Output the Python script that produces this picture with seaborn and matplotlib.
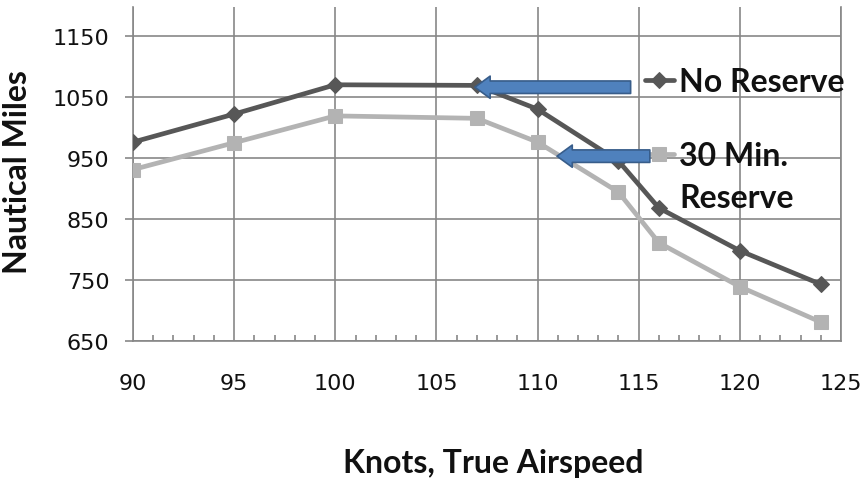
import matplotlib
matplotlib.use("Agg")
import matplotlib.pyplot as plt
import seaborn as sns
import pandas as pd
from matplotlib.ticker import MultipleLocator
from matplotlib.patches import FancyArrowPatch

# ---- data ----
airspeed = [90, 95, 100, 107, 110, 114, 116, 120, 124]
no_reserve = [976, 1022, 1070, 1069, 1030, 945, 868, 798, 743]
min30_reserve = [931, 975, 1019, 1015, 976, 894, 811, 739, 681]
series_names = ["No Reserve", "30 Min. Reserve"]
y_ticks = [650, 750, 850, 950, 1050, 1150]
x_ticks = [90, 95, 100, 105, 110, 115, 120, 125]

df = pd.DataFrame({
    "Knots": airspeed * 2,
    "Miles": no_reserve + min30_reserve,
    "Series": [series_names[0]] * len(airspeed) + [series_names[1]] * len(airspeed),
})

sns.set_style("white")
plt.rcParams["font.family"] = ["DejaVu Sans"]

fig = plt.figure(figsize=(8.62, 4.85), dpi=100)
ax = fig.add_axes([133 / 862, 1 - 342 / 485, (841 - 133) / 862, (342 - 8) / 485])

grid_c = "#878787"
dark = "#575757"
light = "#b3b3b3"
txt_c = "#111111"
bold_font = dict(family="Lato", weight="bold", size=23, color=txt_c)

sns.lineplot(data=df[df.Series == series_names[1]], x="Knots", y="Miles", ax=ax,
             color=light, linewidth=3.4, marker="s", markersize=10,
             markeredgecolor=light, label="30 Min.", zorder=3)
sns.lineplot(data=df[df.Series == series_names[0]], x="Knots", y="Miles", ax=ax,
             color=dark, linewidth=3.4, marker="D", markersize=8,
             markeredgecolor=dark, label="No Reserve", zorder=4)

ax.set_xlim(90, 125)
ax.set_ylim(650, 1197.5)
ax.set_xticks(x_ticks)
ax.set_yticks(y_ticks)
ax.xaxis.set_minor_locator(MultipleLocator(1))
ax.grid(True, which="major", color=grid_c, linewidth=1.2)
ax.set_axisbelow(True)
for s in ["left", "bottom", "right"]:
    ax.spines[s].set_color(grid_c)
    ax.spines[s].set_linewidth(1.2)
ax.spines["top"].set_visible(False)

ax.tick_params(axis="x", which="major", direction="out", length=6, width=1.2,
               color=grid_c, pad=17, labelsize=16, labelcolor=txt_c)
ax.tick_params(axis="x", which="minor", direction="in", length=4, width=1.2,
               color=grid_c, bottom=True)
ax.tick_params(axis="y", which="major", direction="out", length=6, width=1.2,
               color=grid_c, pad=11, labelsize=16, labelcolor=txt_c, left=True)
ax.set_xlabel("")
ax.set_ylabel("")

# legend
handles, labels = ax.get_legend_handles_labels()
order = [labels.index("No Reserve"), labels.index("30 Min.")]
leg = ax.legend([handles[i] for i in order], [labels[i] for i in order],
                loc="upper left", bbox_to_anchor=(645 / 862, 1 - 68 / 485),
                bbox_transform=fig.transFigure, frameon=False, borderpad=0,
                borderaxespad=0, handlelength=0.9, handletextpad=0.15,
                labelspacing=1.4, prop={"family": "Lato", "weight": "bold", "size": 23})
for t in leg.get_texts():
    t.set_color(txt_c)
fig.text(679 / 862, 1 - 199 / 485, "Reserve", ha="left", va="center", **bold_font)

# arrows
arrow_kw = dict(arrowstyle="simple,head_length=1.1,head_width=1.6,tail_width=0.9",
                mutation_scale=10, facecolor="#4F81BD", edgecolor="#385D8A",
                linewidth=1.2, zorder=6, shrinkA=0, shrinkB=0)
ax.add_patch(FancyArrowPatch((114.6, 1066), (106.9, 1066), **arrow_kw))
ax.add_patch(FancyArrowPatch((115.55, 953), (110.96, 953), **arrow_kw))

fig.text(493 / 862, 1 - 464 / 485, "Knots, True Airspeed", ha="center", va="center",
         **bold_font)
fig.text(18 / 862, 1 - 172 / 485, "Nautical Miles", ha="center", va="center",
         rotation=90, **bold_font)

fig.savefig("out.png", dpi=100, facecolor="white")
